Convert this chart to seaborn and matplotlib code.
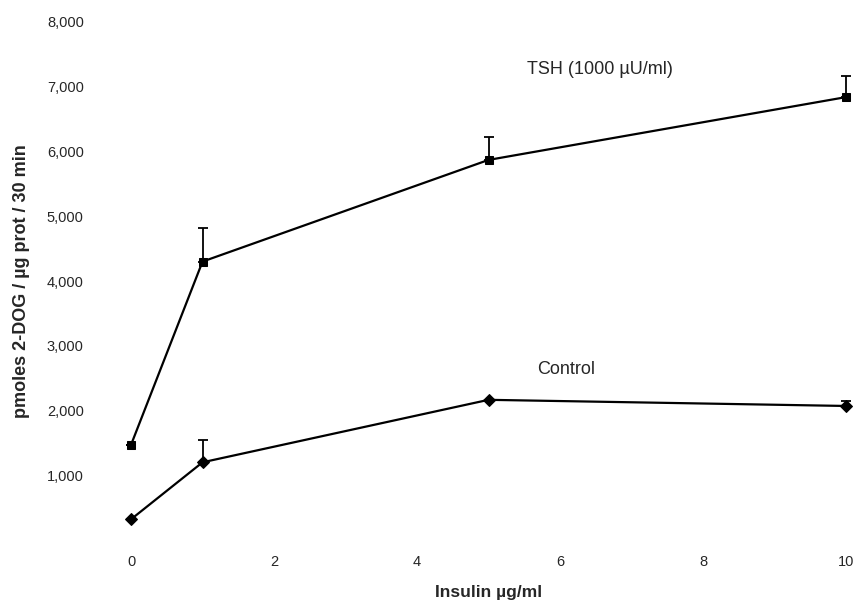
import numpy as np
import pandas as pd
import seaborn as sns
import matplotlib
matplotlib.use("Agg")
import matplotlib.pyplot as plt

insulin = [0, 1, 5, 10]
tsh_mean = [1470, 4300, 5870, 6840]
tsh_err = [0, 520, 360, 330]
ctrl_mean = [320, 1200, 2165, 2070]
ctrl_err = [0, 350, 0, 80]
y_ticks = [1000, 2000, 3000, 4000, 5000, 6000, 7000, 8000]
x_ticks = [0, 2, 4, 6, 8, 10]

sns.set_style("white")
plt.rcParams['font.family'] = ['Liberation Sans', 'DejaVu Sans']

df = pd.DataFrame({
    "insulin": insulin * 2,
    "value": tsh_mean + ctrl_mean,
    "group": ["TSH"] * 4 + ["Control"] * 4,
})

fig = plt.figure(figsize=(8.57, 6.06), dpi=100)
ax = fig.add_axes([0.1529, 0.1089, 0.8343, 0.8548])

sns.lineplot(data=df, x="insulin", y="value", hue="group", style="group",
             markers={"TSH": "s", "Control": "D"}, dashes=False,
             palette={"TSH": "black", "Control": "black"},
             markersize=6, linewidth=1.6, legend=False, ax=ax,
             markeredgecolor="black", clip_on=False)

ax.errorbar(insulin, tsh_mean, yerr=[np.zeros(4), tsh_err], fmt="none",
            ecolor="black", elinewidth=1.3, capsize=3.5, capthick=1.3, clip_on=False)
ax.errorbar(insulin, ctrl_mean, yerr=[np.zeros(4), ctrl_err], fmt="none",
            ecolor="black", elinewidth=1.3, capsize=3.5, capthick=1.3, clip_on=False)

ax.set_xlim(0, 10)
ax.set_ylim(0, 8000)
ax.set_xticks(x_ticks)
ax.set_xticklabels([str(t) for t in x_ticks], fontsize=10.5)
ax.set_yticks(y_ticks)
ax.set_yticklabels([f"{t:,}" for t in y_ticks], fontsize=10.5)
ax.tick_params(axis="both", length=0)
ax.tick_params(axis="y", pad=34)
ax.tick_params(axis="x", pad=11)
for s in ax.spines.values():
    s.set_visible(False)

ax.set_xlabel("Insulin µg/ml", fontsize=12.5, fontweight="bold", labelpad=11)
ax.set_ylabel("pmoles 2-DOG / µg prot / 30 min", fontsize=13, fontweight="bold", labelpad=12)

ax.text(5.54, 7260, "TSH (1000 µU/ml)", fontsize=13, va="center", ha="left")
ax.text(5.68, 2630, "Control", fontsize=13, va="center", ha="left")

fig.savefig("out.png", dpi=100)
